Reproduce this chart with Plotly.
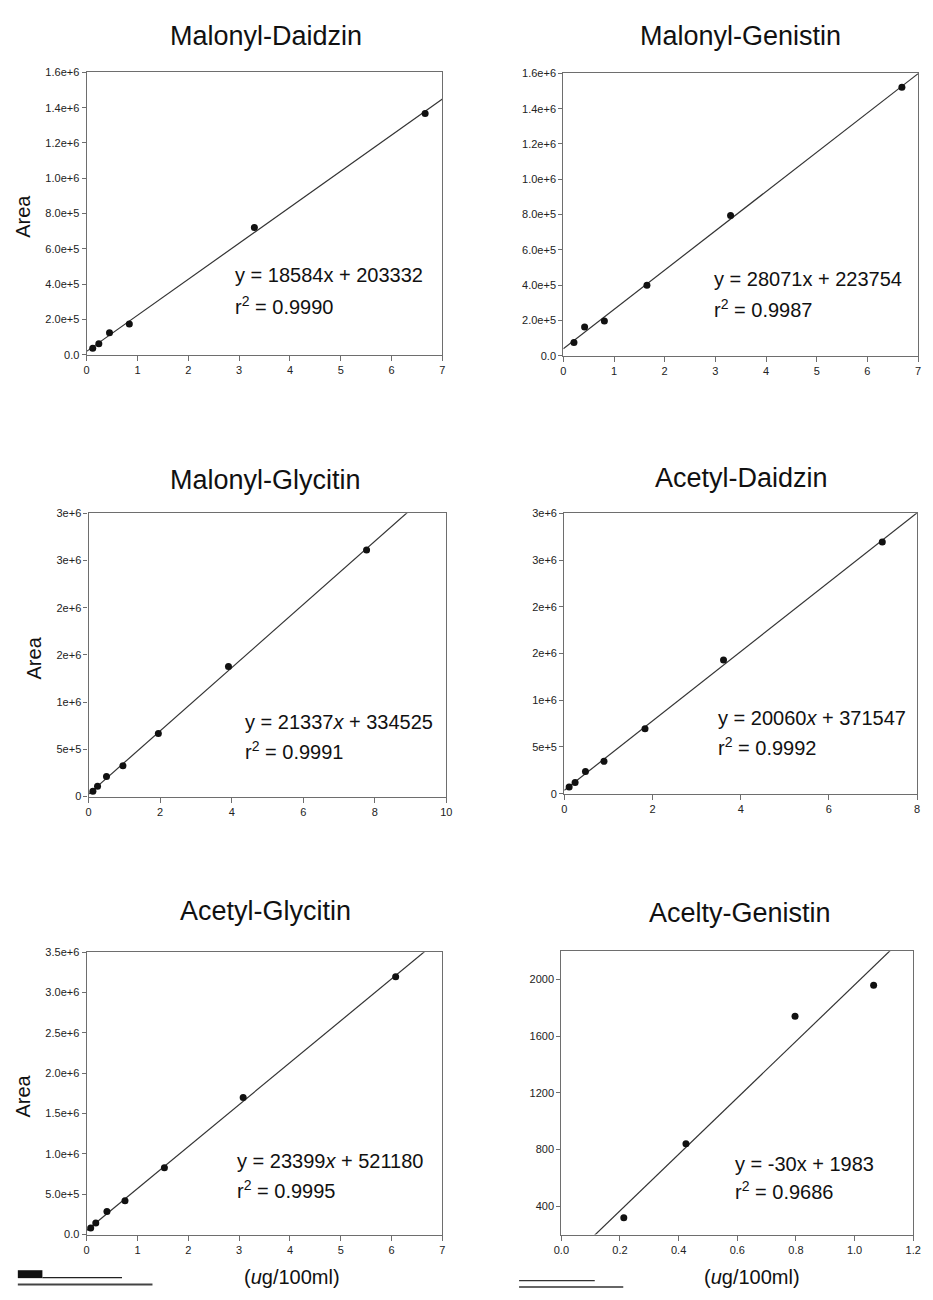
import numpy as np
import plotly.graph_objects as go

# ---------------- data ----------------
titles = ["Malonyl-Daidzin", "Malonyl-Genistin", "Malonyl-Glycitin",
          "Acetyl-Daidzin", "Acetyl-Glycitin", "Acelty-Genistin"]

md_x = [0.12, 0.24, 0.45, 0.84, 3.30, 6.66]
md_y = [37000, 62000, 125000, 174000, 721000, 1367000]

mg_x = [0.21, 0.42, 0.81, 1.65, 3.30, 6.68]
mg_y = [75000, 163000, 197000, 399000, 794000, 1521000]

mgly_x = [0.12, 0.25, 0.50, 0.96, 1.95, 3.91, 7.77]
mgly_y = [56000, 109000, 214000, 326000, 669000, 1377000, 2610000]

ad_x = [0.11, 0.245, 0.48, 0.90, 1.83, 3.61, 7.21]
ad_y = [71000, 120000, 236000, 346000, 695000, 1429000, 2692000]

agly_x = [0.08, 0.18, 0.40, 0.755, 1.53, 3.08, 6.08]
agly_y = [82000, 143000, 287000, 418000, 827000, 1699000, 3194000]

ag_x = [0.213, 0.425, 0.797, 1.065]
ag_y = [318, 840, 1741, 1960]

equations = ["y = 18584x + 203332", "y = 28071x + 223754",
             "y = 21337<i>x</i> + 334525", "y = 20060<i>x</i> + 371547",
             "y = 23399<i>x</i> + 521180", "y = -30x + 1983"]
r2_texts = ["0.9990", "0.9987", "0.9991", "0.9992", "0.9995", "0.9686"]

x_ranges = [[0, 7], [0, 7], [0, 10], [0, 8], [0, 7], [0, 1.2]]
y_ranges = [[0, 1.6e6], [0, 1.6e6], [0, 3e6], [0, 3e6], [0, 3.5e6], [200, 2200]]

x_ticks = [list(range(0, 8)), list(range(0, 8)), [0, 2, 4, 6, 8, 10],
           [0, 2, 4, 6, 8], list(range(0, 8)), [0, 0.2, 0.4, 0.6, 0.8, 1.0, 1.2]]
x_ticktext = [[str(v) for v in x_ticks[0]], [str(v) for v in x_ticks[1]],
              [str(v) for v in x_ticks[2]], [str(v) for v in x_ticks[3]],
              [str(v) for v in x_ticks[4]],
              ["0.0", "0.2", "0.4", "0.6", "0.8", "1.0", "1.2"]]

y_tick_a = [0, 2e5, 4e5, 6e5, 8e5, 1e6, 1.2e6, 1.4e6, 1.6e6]
y_text_a = ["0.0", "2.0e+5", "4.0e+5", "6.0e+5", "8.0e+5", "1.0e+6", "1.2e+6", "1.4e+6", "1.6e+6"]
y_tick_b = [0, 5e5, 1e6, 1.5e6, 2e6, 2.5e6, 3e6]
y_text_b = ["0", "5e+5", "1e+6", "2e+6", "2e+6", "3e+6", "3e+6"]
y_tick_c = [0, 5e5, 1e6, 1.5e6, 2e6, 2.5e6, 3e6, 3.5e6]
y_text_c = ["0.0", "5.0e+5", "1.0e+6", "1.5e+6", "2.0e+6", "2.5e+6", "3.0e+6", "3.5e+6"]
y_tick_d = [400, 800, 1200, 1600, 2000]
y_text_d = ["400", "800", "1200", "1600", "2000"]

xs = [md_x, mg_x, mgly_x, ad_x, agly_x, ag_x]
ys = [md_y, mg_y, mgly_y, ad_y, agly_y, ag_y]
y_ticks = [y_tick_a, y_tick_a, y_tick_b, y_tick_b, y_tick_c, y_tick_d]
y_ticktext = [y_text_a, y_text_a, y_text_b, y_text_b, y_text_c, y_text_d]

# ---------------- layout geometry (pixels) ----------------
W, H = 933, 1300
rects = [(80, 67, 442, 352), (565, 68, 926, 353),
         (82, 512, 446, 798), (566, 512, 925, 795),
         (80, 955, 442, 1240), (563, 954, 921, 1240)]
title_pos = [(262, 30), (745, 30), (262, 478), (746, 476), (262, 913), (745, 915)]
eq_pos = [(229, 272, 302), (716, 276, 305), (239, 723, 751),
          (720, 719, 747), (231, 1166, 1195), (738, 1169, 1196)]

FONT = "Liberation Sans, Arial, sans-serif"
AX_COL = "#6e6e6e"

fig = go.Figure()
layout = dict(width=W, height=H, margin=dict(l=0, r=0, t=0, b=0),
              paper_bgcolor="white", plot_bgcolor="white", showlegend=False,
              font=dict(family=FONT, color="#111"))

annotations = []
for i in range(6):
    n = i + 1
    xa = "xaxis" if n == 1 else f"xaxis{n}"
    ya = "yaxis" if n == 1 else f"yaxis{n}"
    xr = "x" if n == 1 else f"x{n}"
    yr = "y" if n == 1 else f"y{n}"
    x0, y0, x1, y1 = rects[i]
    layout[xa] = dict(domain=[x0 / W, x1 / W], anchor=yr, range=x_ranges[i],
                      tickvals=x_ticks[i], ticktext=x_ticktext[i],
                      showgrid=False, zeroline=False, showline=True, linecolor=AX_COL,
                      linewidth=1.2, mirror=True, ticks="outside", ticklen=5,
                      tickcolor=AX_COL, tickfont=dict(size=11, color="#222"))
    layout[ya] = dict(domain=[1 - y1 / H, 1 - y0 / H], anchor=xr, range=y_ranges[i],
                      tickvals=y_ticks[i], ticktext=y_ticktext[i],
                      showgrid=False, zeroline=False, showline=True, linecolor=AX_COL,
                      linewidth=1.2, mirror=True, ticks="outside", ticklen=4,
                      tickcolor=AX_COL, tickfont=dict(size=11, color="#222"))

    # fitted line from data
    slope, intercept = np.polyfit(xs[i], ys[i], 1)
    lx = np.array(x_ranges[i], dtype=float)
    ly = slope * lx + intercept
    fig.add_trace(go.Scatter(x=lx, y=ly, mode="lines", xaxis=xr, yaxis=yr,
                             line=dict(color="#333", width=1.2), hoverinfo="skip"))
    fig.add_trace(go.Scatter(x=xs[i], y=ys[i], mode="markers", xaxis=xr, yaxis=yr,
                             marker=dict(color="#111", size=7)))

    tx, ty = title_pos[i]
    annotations.append(dict(text=titles[i], x=tx / W, y=1 - ty / H, xref="paper",
                            yref="paper", xanchor="center", yanchor="middle",
                            showarrow=False, font=dict(size=27, color="#111")))
    ex, ey1, ey2 = eq_pos[i]
    annotations.append(dict(text=equations[i], x=ex / W, y=1 - ey1 / H, xref="paper",
                            yref="paper", xanchor="left", yanchor="middle",
                            showarrow=False, font=dict(size=20, color="#111")))
    annotations.append(dict(text="r<sup>2</sup> = " + r2_texts[i], x=ex / W, y=1 - ey2 / H,
                            xref="paper", yref="paper", xanchor="left", yanchor="middle",
                            showarrow=False, font=dict(size=20, color="#111")))

# y-axis labels
for (ax, ay) in [(15, 212), (26, 658), (15, 1100)]:
    annotations.append(dict(text="Area", x=ax / W, y=1 - ay / H, xref="paper", yref="paper",
                            xanchor="center", yanchor="middle", textangle=-90,
                            showarrow=False, font=dict(size=20, color="#111")))
# x-axis labels
for (ax, ay) in [(289, 1283), (757, 1283)]:
    annotations.append(dict(text="(<i>u</i>g/100ml)", x=ax / W, y=1 - ay / H, xref="paper",
                            yref="paper", xanchor="center", yanchor="middle",
                            showarrow=False, font=dict(size=20, color="#111")))

layout["annotations"] = annotations

# small scan marks at bottom
shapes = []
def hline(xa, xb, yy, w, col):
    shapes.append(dict(type="line", xref="paper", yref="paper", x0=xa / W, x1=xb / W,
                       y0=1 - yy / H, y1=1 - yy / H, line=dict(color=col, width=w)))
shapes.append(dict(type="rect", xref="paper", yref="paper", x0=10 / W, x1=35 / W,
                   y0=1 - 1284 / H, y1=1 - 1276 / H, fillcolor="#111", line=dict(width=0)))
hline(35, 116, 1283.5, 1.2, "#222")
hline(10, 147, 1290.5, 2, "#444")
hline(520, 597, 1286.5, 1.2, "#333")
hline(520, 626, 1293, 1.5, "#333")
layout["shapes"] = shapes

fig.update_layout(**layout)
fig.write_html("out.html")
